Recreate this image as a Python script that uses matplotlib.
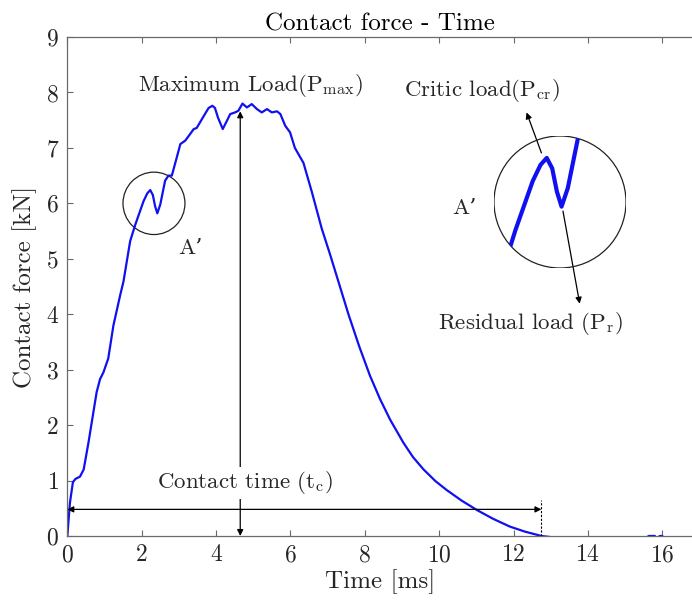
import matplotlib
matplotlib.use("Agg")
import matplotlib.pyplot as plt
from matplotlib.patches import Ellipse

plt.rcParams['font.family'] = ['cmr10', 'DejaVu Serif']
plt.rcParams['mathtext.fontset'] = 'cm'
plt.rcParams['axes.formatter.use_mathtext'] = True
plt.rcParams['axes.unicode_minus'] = False

# ---- data ----
time_ms = [0, 0.07, 0.15, 0.22, 0.34, 0.44, 0.57, 0.70, 0.79, 0.88, 0.97, 1.10,
           1.24, 1.42, 1.51, 1.69, 1.83, 2.05, 2.15, 2.23, 2.30, 2.36, 2.42, 2.50,
           2.63, 2.72, 2.81, 2.94, 3.04, 3.17, 3.40, 3.48, 3.70, 3.80, 3.90, 3.97,
           4.05, 4.18, 4.30, 4.38, 4.51, 4.60, 4.71, 4.83, 4.96, 5.10, 5.23, 5.37,
           5.50, 5.64, 5.73, 5.86, 5.99, 6.12, 6.35, 6.57, 6.84, 7.07, 7.29, 7.56,
           7.85, 8.14, 8.41, 8.68, 9.04, 9.30, 9.58, 9.90, 10.20, 10.60, 11.01,
           11.45, 11.90, 12.30, 12.75,
           13.5, 14.5, 15.5, 15.64, 15.72, 15.80, 15.86, 15.93, 16.0, 16.05, 16.2, 16.8]
force_kN = [0, 0.60, 0.97, 1.03, 1.07, 1.20, 1.69, 2.23, 2.60, 2.83, 2.95, 3.20,
            3.80, 4.34, 4.59, 5.32, 5.62, 6.04, 6.18, 6.24, 6.15, 5.95, 5.82, 5.98,
            6.41, 6.50, 6.50, 6.82, 7.07, 7.13, 7.34, 7.36, 7.61, 7.72, 7.76, 7.72,
            7.55, 7.34, 7.50, 7.61, 7.64, 7.67, 7.80, 7.73, 7.79, 7.70, 7.64, 7.70,
            7.64, 7.66, 7.61, 7.40, 7.28, 7.00, 6.73, 6.22, 5.55, 5.07, 4.59, 4.00,
            3.42, 2.89, 2.47, 2.10, 1.68, 1.42, 1.20, 0.99, 0.83, 0.64, 0.47,
            0.31, 0.17, 0.08, 0.0,
            -0.06, -0.06, -0.06, 0.0, 0.0, 0.0, -0.06, 0.0, 0.0, -0.06, -0.06, -0.06]

x_ticks = [0, 2, 4, 6, 8, 10, 12, 14, 16]
y_ticks = [0, 1, 2, 3, 4, 5, 6, 7, 8, 9]

contact_time = 12.75
max_load_time = 4.65
max_load = 7.66

BLUE = '#1010f0'
AX = '#6a6a6a'
TXT = '#262626'
FS_TXT = 16.5

fig = plt.figure(figsize=(6.92, 6.07), dpi=100)
ax = fig.add_axes([0.0973, 0.117, 0.9027, 0.822])
ax.plot(time_ms, force_kN, color=BLUE, lw=1.6, solid_joinstyle='round')
ax.set_xlim(0, 16.8)
ax.set_ylim(0, 9)
ax.set_xticks(x_ticks)
ax.set_yticks(y_ticks)
ax.tick_params(direction='in', length=4.5, width=0.8, colors=AX, labelcolor=TXT,
               labelsize=17, top=True, right=False, pad=6)
for s in ['left', 'bottom', 'top']:
    ax.spines[s].set_color(AX)
    ax.spines[s].set_linewidth(0.9)
ax.spines['right'].set_visible(False)
ax.set_xlabel('Time [ms]', fontsize=18, color=TXT, labelpad=2)
ax.set_ylabel('Contact force [kN]', fontsize=18, color=TXT, labelpad=6)
ax.set_title('Contact force - Time', fontsize=18, color='black', pad=5)

# vertical max-load arrow
ax.annotate('', xy=(max_load_time, max_load), xytext=(max_load_time, 0),
            arrowprops=dict(arrowstyle='<|-|>', color='black', lw=0.9,
                            mutation_scale=9, shrinkA=0, shrinkB=0))
# horizontal contact-time arrow
ax.annotate('', xy=(contact_time, 0.48), xytext=(0, 0.48),
            arrowprops=dict(arrowstyle='<|-|>', color='black', lw=0.9,
                            mutation_scale=9, shrinkA=0, shrinkB=0))
ax.plot([contact_time, contact_time], [0, 0.65], color='black', lw=0.8,
        ls=(0, (2, 1.5)))

ax.text(4.78, 0.96, r'Contact time (t$_{\mathrm{c}}$)', fontsize=FS_TXT, ha='center',
        va='center', color=TXT,
        bbox=dict(facecolor='white', edgecolor='none', pad=2))
ax.text(4.91, 8.13, r'Maximum Load(P$_{\mathrm{max}}$)', fontsize=FS_TXT,
        ha='center', va='center', color=TXT)

# small circle A'
ax.add_patch(Ellipse((2.33, 6.0), 62 / 37.2, 62 / 55.1, fill=False,
                     edgecolor='#222222', lw=0.9))
ax.text(3.3, 5.19, "A’", fontsize=FS_TXT, ha='center', va='center', color=TXT)

# magnified inset
ax2 = fig.add_axes([494 / 692, (607 - 268) / 607, 132 / 692, 132 / 607])
ax2.set_xlim(2.40 - 0.846, 2.40 + 0.846)
ax2.set_ylim(5.86 - 0.569, 5.86 + 0.569)
ax2.axis('off')
circ = Ellipse((0.5, 0.5), 1, 1, transform=ax2.transAxes, fill=False,
               edgecolor='#222222', lw=0.9)
ax2.add_patch(circ)
ln, = ax2.plot(time_ms, force_kN, color=BLUE, lw=3.0, solid_capstyle='round',
               solid_joinstyle='round')
ln.set_clip_path(circ)

ax.text(10.69, 5.92, "A’", fontsize=FS_TXT, ha='center', va='center', color=TXT)
ax.text(11.15, 8.04, r'Critic load(P$_{\mathrm{cr}}$)', fontsize=FS_TXT,
        ha='center', va='center', color=TXT)
ax.text(12.44, 3.83, r'Residual load (P$_{\mathrm{r}}$)', fontsize=FS_TXT,
        ha='center', va='center', color=TXT)
ax.annotate('', xy=(12.35, 7.64), xytext=(12.75, 6.91),
            arrowprops=dict(arrowstyle='-|>', color='black', lw=0.9,
                            mutation_scale=9, shrinkA=0, shrinkB=0))
ax.annotate('', xy=(13.78, 4.19), xytext=(13.33, 5.86),
            arrowprops=dict(arrowstyle='-|>', color='black', lw=0.9,
                            mutation_scale=9, shrinkA=0, shrinkB=0))

fig.savefig('out.png', dpi=100)
